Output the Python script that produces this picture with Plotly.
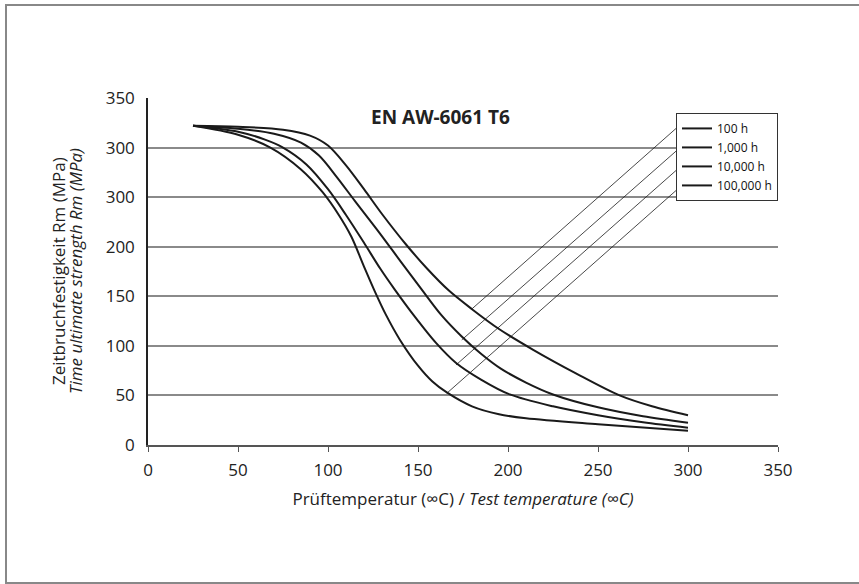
import plotly.graph_objects as go

# ---- data ----
series_names = ["100 h", "1,000 h", "10,000 h", "100,000 h"]

x_100h = [25, 50, 75, 90, 100, 110, 120, 130, 143, 155, 167, 180, 195, 214, 238, 262, 280, 300]
y_100h = [322, 321, 318, 312, 302, 282, 258, 233, 203, 178, 156, 137, 117, 96, 72, 50, 39, 30]

x_1000h = [25, 50, 70, 85, 95, 105, 115, 129, 140, 152, 163, 174, 185, 196, 210, 225, 250, 275, 300]
y_1000h = [322, 319, 314, 305, 292, 270, 246, 213, 186, 157, 131, 110, 92, 77, 63, 51, 38, 29, 22.5]

x_10000h = [25, 50, 65, 75, 88, 100, 110, 120, 129, 137, 148, 160, 171, 185, 201, 225, 250, 275, 300]
y_10000h = [322, 316, 308, 300, 283, 258, 232, 204, 178, 157, 130, 103, 83, 66, 51, 39, 30, 23, 17.5]

x_100000h = [25, 50, 68, 85, 97, 106, 113, 120, 126, 132, 140, 150, 158, 166, 180, 195, 210, 250, 300]
y_100000h = [322, 313, 300, 278, 255, 232, 210, 180, 155, 132, 106, 80, 64, 53, 39, 31, 27, 21, 14.4]

# leader lines from curves to legend entries (data coords)
leader_x0 = [179.8, 174.3, 171.1, 166.0]
leader_y0 = [137.0, 106.0, 80.7, 52.2]
leader_x1 = [295.6, 295.6, 295.6, 295.6]
leader_y1 = [322.9, 300.0, 280.5, 260.3]

x_ticks = [0, 50, 100, 150, 200, 250, 300, 350]
y_ticks = [0, 50, 100, 150, 200, 250, 300, 350]
y_ticktext = ["0", "50", "100", "150", "200", "300", "300", "350"]

title_text = "EN AW-6061 T6"
x_title = "Prüftemperatur (∞C) / <i>Test temperature (∞C)</i>"
y_title_de = "Zeitbruchfestigkeit Rm (MPa)"
y_title_en = "<i>Time ultimate strength Rm (MPa)</i>"

FONT = "Open Sans"
fig = go.Figure()

series_x = [x_100h, x_1000h, x_10000h, x_100000h]
series_y = [y_100h, y_1000h, y_10000h, y_100000h]
for name, xs, ys in zip(series_names, series_x, series_y):
    fig.add_trace(go.Scatter(x=xs, y=ys, name=name, mode="lines",
                             line=dict(color="#1a1a1a", width=2, shape="spline", smoothing=0.9)))

for x0, y0, x1, y1 in zip(leader_x0, leader_y0, leader_x1, leader_y1):
    fig.add_trace(go.Scatter(x=[x0, x1], y=[y0, y1], mode="lines", showlegend=False,
                             hoverinfo="skip", line=dict(color="#1a1a1a", width=0.8)))

fig.update_layout(
    width=859, height=584,
    margin=dict(l=148, r=81, t=98, b=139),
    paper_bgcolor="white", plot_bgcolor="white",
    font=dict(family=FONT, color="#222", size=17),
    showlegend=True,
    legend=dict(x=1, xanchor="right", y=0.957, yanchor="top",
                bgcolor="white", bordercolor="#333", borderwidth=1,
                font=dict(size=12, family=FONT, color="#111"),
                tracegroupgap=0, itemwidth=30),
    xaxis=dict(range=[0, 350], tickvals=x_ticks, showgrid=False, zeroline=False,
               showline=True, linecolor="#555", linewidth=1.5,
               ticks="outside", ticklen=5, tickcolor="#555",
               tickfont=dict(size=17), ticklabelstandoff=4,
               title=dict(text=x_title, font=dict(size=17), standoff=13)),
    yaxis=dict(range=[0, 350], tickvals=y_ticks, ticktext=y_ticktext,
               showgrid=True, gridcolor="#8a8a8a", gridwidth=1.5, zeroline=False,
               showline=True, linecolor="#222", linewidth=1.5,
               ticks="", tickfont=dict(size=17), ticklabelstandoff=8),
    annotations=[
        dict(text="<b>" + title_text + "</b>", x=0.4635, y=0.945,
             xref="paper", yref="paper", showarrow=False,
             xanchor="center", yanchor="middle",
             font=dict(size=19, family=FONT, color="#222")),
        dict(text=y_title_de, x=-0.142, y=0.5, xref="paper", yref="paper",
             xanchor="center", yanchor="middle",
             textangle=-90, showarrow=False, font=dict(size=17, family=FONT, color="#222")),
        dict(text=y_title_en, x=-0.115, y=0.5, xref="paper", yref="paper",
             xanchor="center", yanchor="middle",
             textangle=-90, showarrow=False, font=dict(size=17, family=FONT, color="#222")),
    ],
    shapes=[dict(type="rect", xref="paper", yref="paper",
                 x0=-0.2254, x1=1.1587, y0=-0.3977, y1=1.268,
                 line=dict(color="#888", width=2), fillcolor="rgba(0,0,0,0)")],
)

fig.write_html("out.html")
